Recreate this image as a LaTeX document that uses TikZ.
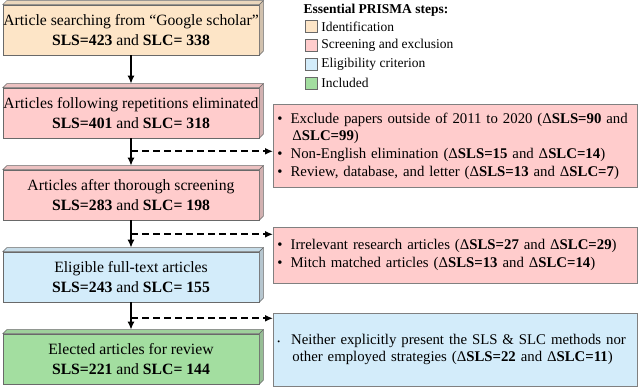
\documentclass[tikz,border=0pt]{standalone}
\usepackage{fontspec}
\setmainfont{Liberation Serif}
\usetikzlibrary{positioning,arrows.meta}

\definecolor{identcol}{RGB}{253,229,199}
\definecolor{screencol}{RGB}{255,204,204}
\definecolor{eligcol}{RGB}{211,236,250}
\definecolor{inclcol}{RGB}{163,222,160}
\definecolor{edgecol}{RGB}{105,105,105}
\definecolor{notegray}{RGB}{128,128,128}

\newcommand{\dsls}[1]{Δ\textbf{SLS=#1}}
\newcommand{\dslc}[1]{Δ\textbf{SLC=#1}}

\begin{document}
\begin{tikzpicture}[x=1pt,y=-1pt,
  stepbox/.style={draw=edgecol, line width=0.6, minimum width=256, minimum height=50,
    inner sep=0, align=center, font=\fontsize{15.7}{20}\selectfont},
  notebox/.style={draw=notegray, line width=0.8, anchor=north west, text width=358,
    inner xsep=3, inner ysep=0, align=left, font=\fontsize{14.8}{17}\selectfont},
  flow/.style={-{Latex[length=8,width=7]}, line width=1.6},
  branch/.style={flow, dash pattern=on 7 off 4},
  keybox/.style={draw=edgecol, minimum size=12, inner sep=0},
]
\useasboundingbox (0,0) rectangle (640,387);

% main PRISMA steps
\node [stepbox, fill=identcol] (ident) at (131,30) {Article searching from “Google scholar”\\\textbf{SLS=423} and \textbf{SLC= 338}};
\node [stepbox, fill=screencol] (scr) at (131,113) {Articles following repetitions eliminated\\\textbf{SLS=401} and \textbf{SLC= 318}};
\node [stepbox, fill=screencol] (thor) at (131,195) {Articles after thorough screening\\\textbf{SLS=283} and \textbf{SLC= 198}};
\node [stepbox, fill=eligcol] (elig) at (131,277) {Eligible full-text articles\\\textbf{SLS=243} and \textbf{SLC= 155}};
\node [stepbox, fill=inclcol] (incl) at (131,359) {Elected articles for review\\\textbf{SLS=221} and \textbf{SLC= 144}};

% 3D edges
\foreach \n/\c in {ident/identcol, scr/screencol, thor/screencol, elig/eligcol, incl/inclcol} {
  \filldraw [fill=\c!85!gray, draw=edgecol, line width=0.5] (\n.north west) -- ++(4,-4) -- ([shift={(4,-4)}]\n.north east) -- (\n.north east) -- cycle;
  \filldraw [fill=\c!65!gray, draw=edgecol, line width=0.5] (\n.north east) -- ++(4,-4) -- ([shift={(4,-4)}]\n.south east) -- (\n.south east) -- cycle;
}

% excluded records
\node [notebox, fill=screencol, minimum height=83] (ex1) at (273,104) {%
  \hspace*{1pt}\textbullet\hspace{8pt}Exclude papers outside of 2011 to 2020 (\dsls{90} and\\
  \hspace*{16pt}\dslc{99})\\[1pt]
  \hspace*{1pt}\textbullet\hspace{8pt}Non-English elimination (\dsls{15} and \dslc{14})\\[1pt]
  \hspace*{1pt}\textbullet\hspace{8pt}Review, database, and letter (\dsls{13} and \dslc{7})};
\node [notebox, fill=screencol, minimum height=56] (ex2) at (273,227) {%
  \hspace*{1pt}\textbullet\hspace{8pt}Irrelevant research articles (\dsls{27} and \dslc{29})\\[1pt]
  \hspace*{1pt}\textbullet\hspace{8pt}Mitch matched articles (\dsls{13} and \dslc{14})};
\node [notebox, fill=eligcol, minimum height=73] (ex3) at (273,313) {%
  \hspace*{1pt}{\fontsize{8}{8}\selectfont\textbullet}\hspace{11pt}Neither explicitly present the SLS \& SLC methods nor\\
  \hspace*{16pt}other employed strategies (\dsls{22} and \dslc{11})};

% arrows
\draw [flow] (ident.south) -- ([yshift=4pt]scr.north);
\draw [flow] (scr.south) -- ([yshift=4pt]thor.north);
\draw [flow] (thor.south) -- ([yshift=4pt]elig.north);
\draw [flow] (elig.south) -- ([yshift=4pt]incl.north);

\coordinate (b1) at ([yshift=-13pt]scr.south);
\coordinate (b2) at ([yshift=-14pt]thor.south);
\coordinate (b3) at ([yshift=-16pt]elig.south);
\draw [branch] (b1) -- (b1 -| ex1.west);
\draw [branch] (b2) -- (b2 -| ex2.west);
\draw [branch] (b3) -- (b3 -| ex3.west);

% legend
\node [anchor=west, font=\fontsize{13.5}{16}\selectfont\bfseries] (keytitle) at (300,10) {Essential PRISMA steps:};
\foreach \i/\c/\t in {1/identcol/Identification, 2/screencol/Screening and exclusion,
                      3/eligcol/Eligibility criterion, 4/inclcol/Included} {
  \node [keybox, fill=\c] (key\i) at (311,8+18.7*\i) {};
  \node [right=4pt of key\i, inner sep=0, font=\fontsize{13.5}{16}\selectfont] (keytxt\i) {\t};
}
\end{tikzpicture}
\end{document}
